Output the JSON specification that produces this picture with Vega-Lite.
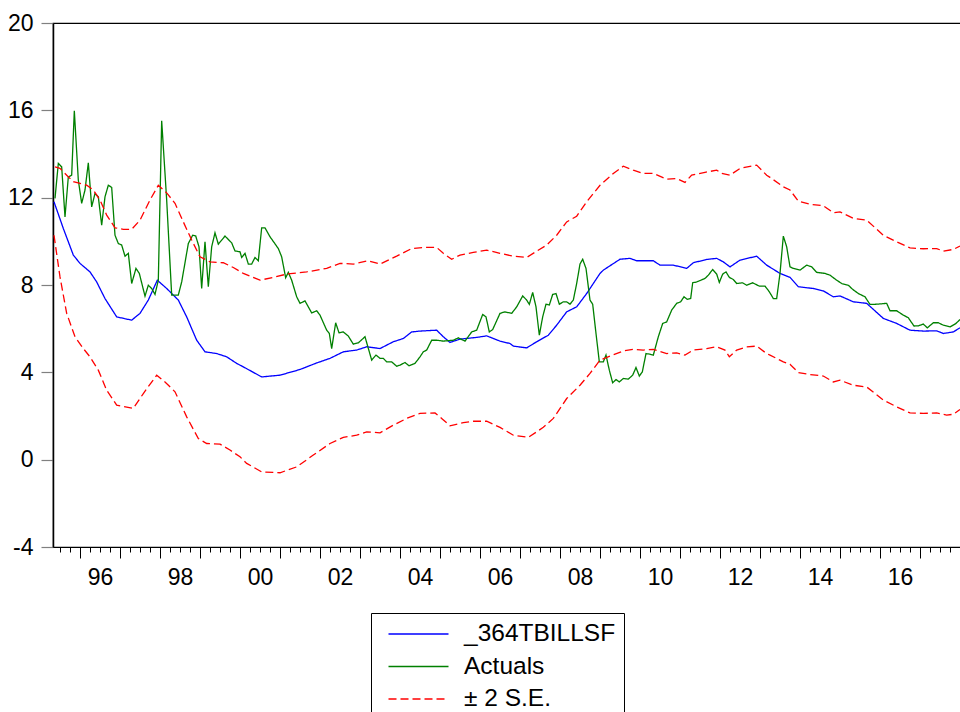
{
  "$schema": "https://vega.github.io/schema/vega-lite/v6.json",
  "width": 908,
  "height": 524,
  "autosize": {"type": "none"},
  "padding": {"left": 53, "top": 23, "right": 0, "bottom": 165},
  "background": "white",
  "config": {
    "font": "Liberation Sans",
    "view": {"stroke": "black", "strokeWidth": 1.2}
  },
  "datasets": {
    "fc": [
      [1995.35,11.81],[1995.583,10.59],[1995.833,9.37],[1996.0,8.99],[1996.25,8.60],[1996.417,8.14],[1996.625,7.38],[1996.917,6.54],
      [1997.292,6.39],[1997.5,6.70],[1997.708,7.31],[1997.933,8.22],[1998.167,7.84],[1998.458,7.31],[1998.667,6.54],[1998.917,5.47],
      [1999.125,4.94],[1999.417,4.86],[1999.667,4.71],[1999.917,4.41],[2000.083,4.25],[2000.542,3.79],[2001.0,3.87],[2001.5,4.13],
      [2001.917,4.43],[2002.25,4.64],[2002.583,4.94],[2002.917,5.02],[2003.167,5.17],[2003.5,5.09],[2003.833,5.40],[2004.083,5.55],
      [2004.292,5.85],[2004.5,5.89],[2004.917,5.93],[2005.083,5.63],[2005.25,5.37],[2005.5,5.52],[2005.917,5.60],[2006.167,5.67],
      [2006.5,5.43],[2006.75,5.32],[2006.833,5.20],[2007.167,5.12],[2007.417,5.40],[2007.708,5.70],[2007.917,6.16],[2008.167,6.77],
      [2008.417,7.00],[2008.667,7.61],[2009.0,8.53],[2009.083,8.68],[2009.5,9.18],[2009.75,9.22],[2009.917,9.11],[2010.333,9.11],
      [2010.5,8.91],[2010.833,8.91],[2011.167,8.76],[2011.333,9.02],[2011.667,9.17],[2011.917,9.22],[2012.083,9.06],[2012.25,8.83],
      [2012.5,9.14],[2012.917,9.32],[2013.167,8.91],[2013.5,8.53],[2013.75,8.35],[2013.958,7.92],[2014.333,7.84],[2014.583,7.73],
      [2014.833,7.46],[2015.0,7.50],[2015.333,7.23],[2015.667,7.16],[2016.083,6.47],[2016.417,6.24],[2016.75,5.93],[2017.083,5.89],
      [2017.417,5.90],[2017.583,5.78],[2017.833,5.85],[2018.0,6.04]
    ],
    "act": [
      [1995.375,11.97],[1995.458,13.57],[1995.542,13.41],[1995.625,11.12],[1995.708,12.95],[1995.792,13.03],[1995.858,15.98],[1995.958,12.80],
      [1996.042,11.74],[1996.125,12.35],[1996.208,13.60],[1996.292,11.58],[1996.375,12.19],[1996.458,12.04],[1996.542,10.74],[1996.625,12.04],
      [1996.708,12.57],[1996.792,12.47],[1996.875,10.28],[1996.958,9.90],[1997.042,9.83],[1997.125,9.32],[1997.208,9.45],[1997.292,8.07],
      [1997.4,8.76],[1997.483,8.53],[1997.625,7.49],[1997.708,7.99],[1997.792,7.84],[1997.875,7.57],[1997.958,8.22],[1998.042,15.52],
      [1998.167,11.89],[1998.292,7.54],[1998.458,7.54],[1998.542,8.14],[1998.708,9.90],[1998.817,10.28],[1998.892,10.25],[1998.975,9.75],
      [1999.042,7.84],[1999.125,9.98],[1999.208,7.92],[1999.292,9.75],[1999.375,10.39],[1999.458,9.87],[1999.625,10.24],[1999.792,9.93],
      [1999.875,9.56],[2000.0,9.52],[2000.042,9.26],[2000.125,9.45],[2000.208,8.96],[2000.292,8.96],[2000.375,9.26],[2000.458,9.11],
      [2000.542,10.62],[2000.625,10.62],[2000.75,10.21],[2000.958,9.67],[2001.042,9.29],[2001.142,8.33],[2001.208,8.58],[2001.292,8.22],
      [2001.417,7.46],[2001.5,7.16],[2001.625,7.27],[2001.792,6.72],[2001.917,6.82],[2002.0,6.62],[2002.167,5.93],[2002.233,5.78],
      [2002.292,5.09],[2002.392,6.27],[2002.475,5.81],[2002.583,5.85],[2002.708,5.66],[2002.833,5.29],[2002.958,5.35],[2003.125,5.63],
      [2003.292,4.56],[2003.4,4.79],[2003.5,4.64],[2003.583,4.64],[2003.667,4.48],[2003.792,4.48],[2003.917,4.28],[2004.0,4.33],
      [2004.125,4.45],[2004.225,4.30],[2004.375,4.41],[2004.5,4.71],[2004.583,4.94],[2004.667,5.02],[2004.792,5.47],[2004.917,5.47],
      [2005.083,5.43],[2005.333,5.47],[2005.458,5.58],[2005.625,5.43],[2005.792,5.85],[2005.917,5.93],[2006.067,6.65],[2006.15,6.54],
      [2006.233,5.85],[2006.317,5.96],[2006.5,6.70],[2006.625,6.77],[2006.792,6.70],[2006.917,7.00],[2007.067,7.50],[2007.167,7.31],
      [2007.233,7.11],[2007.317,7.66],[2007.4,7.00],[2007.483,5.70],[2007.567,6.54],[2007.65,7.12],[2007.733,7.08],[2007.817,7.57],
      [2007.9,7.61],[2007.983,7.12],[2008.083,7.23],[2008.167,7.23],[2008.25,7.12],[2008.333,7.31],[2008.417,8.07],[2008.5,8.96],
      [2008.567,9.18],[2008.65,8.76],[2008.75,7.31],[2008.817,7.12],[2008.9,5.78],[2008.983,4.48],[2009.083,4.48],[2009.15,4.79],
      [2009.233,4.10],[2009.317,3.52],[2009.4,3.67],[2009.483,3.56],[2009.583,3.72],[2009.708,3.69],[2009.817,3.87],[2009.9,4.22],
      [2009.983,3.83],[2010.058,4.02],[2010.15,4.86],[2010.25,4.83],[2010.333,4.79],[2010.458,5.63],[2010.567,6.24],[2010.667,6.31],
      [2010.792,6.85],[2010.917,7.16],[2011.017,7.23],[2011.1,7.46],[2011.183,7.34],[2011.267,7.38],[2011.317,8.10],[2011.417,8.14],
      [2011.625,8.30],[2011.708,8.45],[2011.817,8.71],[2011.917,8.50],[2011.983,8.12],[2012.067,8.50],[2012.15,8.60],[2012.233,8.35],
      [2012.333,8.25],[2012.417,8.07],[2012.567,8.10],[2012.667,7.99],[2012.817,8.10],[2012.983,7.95],[2013.125,7.95],[2013.233,7.69],
      [2013.333,7.38],[2013.417,7.38],[2013.5,8.53],[2013.583,10.24],[2013.667,9.75],[2013.75,8.83],[2013.833,8.76],[2014.0,8.68],
      [2014.167,8.91],[2014.292,8.83],[2014.417,8.58],[2014.625,8.53],[2014.75,8.45],[2014.917,8.22],[2015.042,8.07],[2015.208,7.99],
      [2015.317,7.80],[2015.458,7.61],[2015.625,7.46],[2015.75,7.11],[2015.917,7.12],[2016.167,7.16],[2016.25,6.82],[2016.417,6.82],
      [2016.583,6.62],[2016.708,6.50],[2016.85,6.12],[2016.958,6.13],[2017.083,6.21],[2017.183,6.04],[2017.333,6.27],[2017.458,6.27],
      [2017.583,6.16],[2017.75,6.08],[2017.9,6.24],[2018.0,6.42]
    ],
    "up": [
      [1995.375,13.41],[1995.5,13.34],[1995.667,13.03],[1995.833,12.73],[1996.0,12.65],[1996.167,12.57],[1996.333,12.35],[1996.5,11.89],
      [1996.667,11.20],[1996.875,10.62],[1997.083,10.55],[1997.292,10.55],[1997.5,10.97],[1997.75,11.89],[1997.958,12.57],[1998.167,12.22],
      [1998.375,11.74],[1998.583,10.89],[1998.792,10.06],[1999.0,9.29],[1999.25,9.06],[1999.583,9.02],[1999.833,8.80],[2000.083,8.53],
      [2000.5,8.22],[2000.833,8.35],[2001.167,8.50],[2001.667,8.60],[2002.167,8.76],[2002.5,8.99],[2002.833,8.96],[2003.208,9.11],
      [2003.5,8.96],[2003.917,9.32],[2004.292,9.67],[2004.583,9.72],[2004.917,9.72],[2005.083,9.45],[2005.292,9.18],[2005.5,9.37],
      [2005.833,9.49],[2006.167,9.60],[2006.5,9.45],[2006.833,9.32],[2007.167,9.26],[2007.417,9.55],[2007.667,9.83],[2007.917,10.28],
      [2008.167,10.89],[2008.417,11.15],[2008.667,11.81],[2009.0,12.57],[2009.333,13.11],[2009.583,13.44],[2009.833,13.26],[2010.083,13.11],
      [2010.333,13.11],[2010.667,12.85],[2010.917,12.88],[2011.125,12.70],[2011.292,13.03],[2011.625,13.16],[2011.917,13.26],[2012.042,13.11],
      [2012.25,13.03],[2012.5,13.34],[2012.917,13.49],[2013.167,13.03],[2013.25,12.93],[2013.583,12.50],[2013.75,12.35],[2013.958,11.84],
      [2014.25,11.70],[2014.583,11.63],[2014.833,11.31],[2015.0,11.35],[2015.333,11.05],[2015.667,10.97],[2016.083,10.28],[2016.417,9.98],
      [2016.75,9.70],[2017.083,9.66],[2017.417,9.67],[2017.583,9.55],[2017.833,9.63],[2018.0,9.78]
    ],
    "lo": [
      [1995.35,10.28],[1995.5,8.37],[1995.667,6.70],[1995.875,5.63],[1996.083,5.09],[1996.25,4.71],[1996.458,4.10],[1996.667,3.18],
      [1996.917,2.50],[1997.333,2.35],[1997.583,3.03],[1997.917,3.87],[1998.125,3.56],[1998.375,3.11],[1998.667,1.96],[1998.958,0.97],
      [1999.167,0.74],[1999.5,0.71],[1999.75,0.44],[2000.0,0.13],[2000.167,-0.17],[2000.542,-0.56],[2001.0,-0.60],[2001.417,-0.33],
      [2001.833,0.21],[2002.25,0.74],[2002.583,1.02],[2002.917,1.12],[2003.167,1.27],[2003.5,1.23],[2003.833,1.58],[2004.167,1.89],
      [2004.5,2.12],[2004.875,2.14],[2005.042,1.89],[2005.25,1.55],[2005.583,1.70],[2005.833,1.76],[2006.167,1.76],[2006.5,1.48],
      [2006.833,1.12],[2007.208,1.02],[2007.583,1.48],[2007.833,1.89],[2008.167,2.80],[2008.5,3.41],[2008.75,3.95],[2009.0,4.56],
      [2009.25,4.74],[2009.583,4.98],[2009.833,5.05],[2010.083,5.02],[2010.333,5.05],[2010.667,4.86],[2010.917,4.89],[2011.125,4.79],
      [2011.333,5.02],[2011.667,5.09],[2011.917,5.17],[2012.125,5.02],[2012.233,4.71],[2012.417,5.02],[2012.667,5.17],[2012.917,5.20],
      [2013.167,4.86],[2013.25,4.79],[2013.583,4.48],[2013.75,4.37],[2013.958,3.99],[2014.25,3.90],[2014.583,3.83],[2014.833,3.56],
      [2015.0,3.64],[2015.333,3.41],[2015.667,3.33],[2016.083,2.73],[2016.417,2.42],[2016.75,2.14],[2017.083,2.12],[2017.417,2.14],
      [2017.667,2.04],[2017.833,2.08],[2018.0,2.30]
    ]
  },
  "layer": [
    {
      "data": {"name": "fc"},
      "transform": [
        {"calculate": "datum[0]", "as": "t"},
        {"calculate": "datum[1]", "as": "v"},
        {"calculate": "'_364TBILLSF'", "as": "s"},
        {"calculate": "'f'", "as": "k"}
      ],
      "mark": {"type": "line", "strokeWidth": 1.3, "clip": true}
    },
    {
      "data": {"name": "act"},
      "transform": [
        {"calculate": "datum[0]", "as": "t"},
        {"calculate": "datum[1]", "as": "v"},
        {"calculate": "'Actuals'", "as": "s"},
        {"calculate": "'a'", "as": "k"}
      ],
      "mark": {"type": "line", "strokeWidth": 1.3, "clip": true}
    },
    {
      "data": {"name": "up"},
      "transform": [
        {"calculate": "datum[0]", "as": "t"},
        {"calculate": "datum[1]", "as": "v"},
        {"calculate": "'± 2 S.E.'", "as": "s"},
        {"calculate": "'u'", "as": "k"}
      ],
      "mark": {"type": "line", "strokeWidth": 1.3, "clip": true}
    },
    {
      "data": {"name": "lo"},
      "transform": [
        {"calculate": "datum[0]", "as": "t"},
        {"calculate": "datum[1]", "as": "v"},
        {"calculate": "'± 2 S.E.'", "as": "s"},
        {"calculate": "'l'", "as": "k"}
      ],
      "mark": {"type": "line", "strokeWidth": 1.3, "clip": true}
    }
  ],
  "encoding": {
    "x": {
      "field": "t",
      "type": "quantitative",
      "scale": {"domain": [1995.325, 2018.025], "nice": false, "zero": false},
      "axis": {
        "title": null,
        "grid": false,
        "values": [1995.5,1995.75,1996,1996.25,1996.5,1996.75,1997,1997.25,1997.5,1997.75,1998,1998.25,1998.5,1998.75,1999,1999.25,1999.5,1999.75,2000,2000.25,2000.5,2000.75,2001,2001.25,2001.5,2001.75,2002,2002.25,2002.5,2002.75,2003,2003.25,2003.5,2003.75,2004,2004.25,2004.5,2004.75,2005,2005.25,2005.5,2005.75,2006,2006.25,2006.5,2006.75,2007,2007.25,2007.5,2007.75,2008,2008.25,2008.5,2008.75,2009,2009.25,2009.5,2009.75,2010,2010.25,2010.5,2010.75,2011,2011.25,2011.5,2011.75,2012,2012.25,2012.5,2012.75,2013,2013.25,2013.5,2013.75,2014,2014.25,2014.5,2014.75,2015,2015.25,2015.5,2015.75,2016,2016.25,2016.5,2016.75,2017,2017.25,2017.5,2017.75],
        "domainColor": "black",
        "domainWidth": 1.2,
        "tickColor": "black",
        "tickWidth": 1,
        "tickSize": {"condition": {"test": "datum.value % 1 === 0", "value": 11}, "value": 5},
        "labelExpr": "datum.value % 2 === 0 ? slice(toString(datum.value), 2) : ''",
        "labelOffset": 20,
        "labelPadding": 8,
        "labelFontSize": 23,
        "labelColor": "black",
        "labelOverlap": false,
        "labelBound": false,
        "labelFlush": false
      }
    },
    "y": {
      "field": "v",
      "type": "quantitative",
      "scale": {"domain": [-4, 20], "nice": false, "zero": false},
      "axis": {
        "title": null,
        "grid": false,
        "values": [-4, 0, 4, 8, 12, 16, 20],
        "domainColor": "black",
        "domainWidth": 1.5,
        "tickColor": "#808080",
        "tickWidth": 1.2,
        "tickSize": 12,
        "labelPadding": 8,
        "labelFontSize": 23,
        "labelColor": "black",
        "labelExpr": "toString(datum.value)",
        "labelOverlap": false,
        "labelBound": false,
        "labelFlush": false
      }
    },
    "color": {
      "field": "s",
      "type": "nominal",
      "scale": {"domain": ["_364TBILLSF", "Actuals", "± 2 S.E."], "range": ["#0000FF", "#008000", "#FF0000"]},
      "legend": {
        "title": null,
        "orient": "none",
        "legendX": 318,
        "legendY": 590,
        "direction": "vertical",
        "symbolType": "M-2.5,0H2.5",
        "symbolSize": 576,
        "symbolStrokeWidth": 1.3,
        "labelFontSize": 24.5,
        "labelColor": "black",
        "labelOffset": 32.5,
        "labelLimit": 400,
        "rowPadding": 7.5,
        "padding": 8,
        "symbolOffset": 26.5,
        "strokeColor": "black",
        "fillColor": "white"
      }
    },
    "strokeDash": {
      "field": "s",
      "type": "nominal",
      "scale": {"domain": ["_364TBILLSF", "Actuals", "± 2 S.E."], "range": [[1, 0], [1, 0], [8, 4]]},
      "legend": {
        "title": null,
        "orient": "none",
        "legendX": 318,
        "legendY": 590,
        "direction": "vertical",
        "symbolType": "M-2.5,0H2.5",
        "symbolSize": 576,
        "symbolStrokeWidth": 1.3,
        "labelFontSize": 24.5,
        "labelColor": "black",
        "labelOffset": 32.5,
        "labelLimit": 400,
        "rowPadding": 7.5,
        "padding": 8,
        "symbolOffset": 26.5,
        "strokeColor": "black",
        "fillColor": "white"
      }
    },
    "detail": {"field": "k"}
  }
}
